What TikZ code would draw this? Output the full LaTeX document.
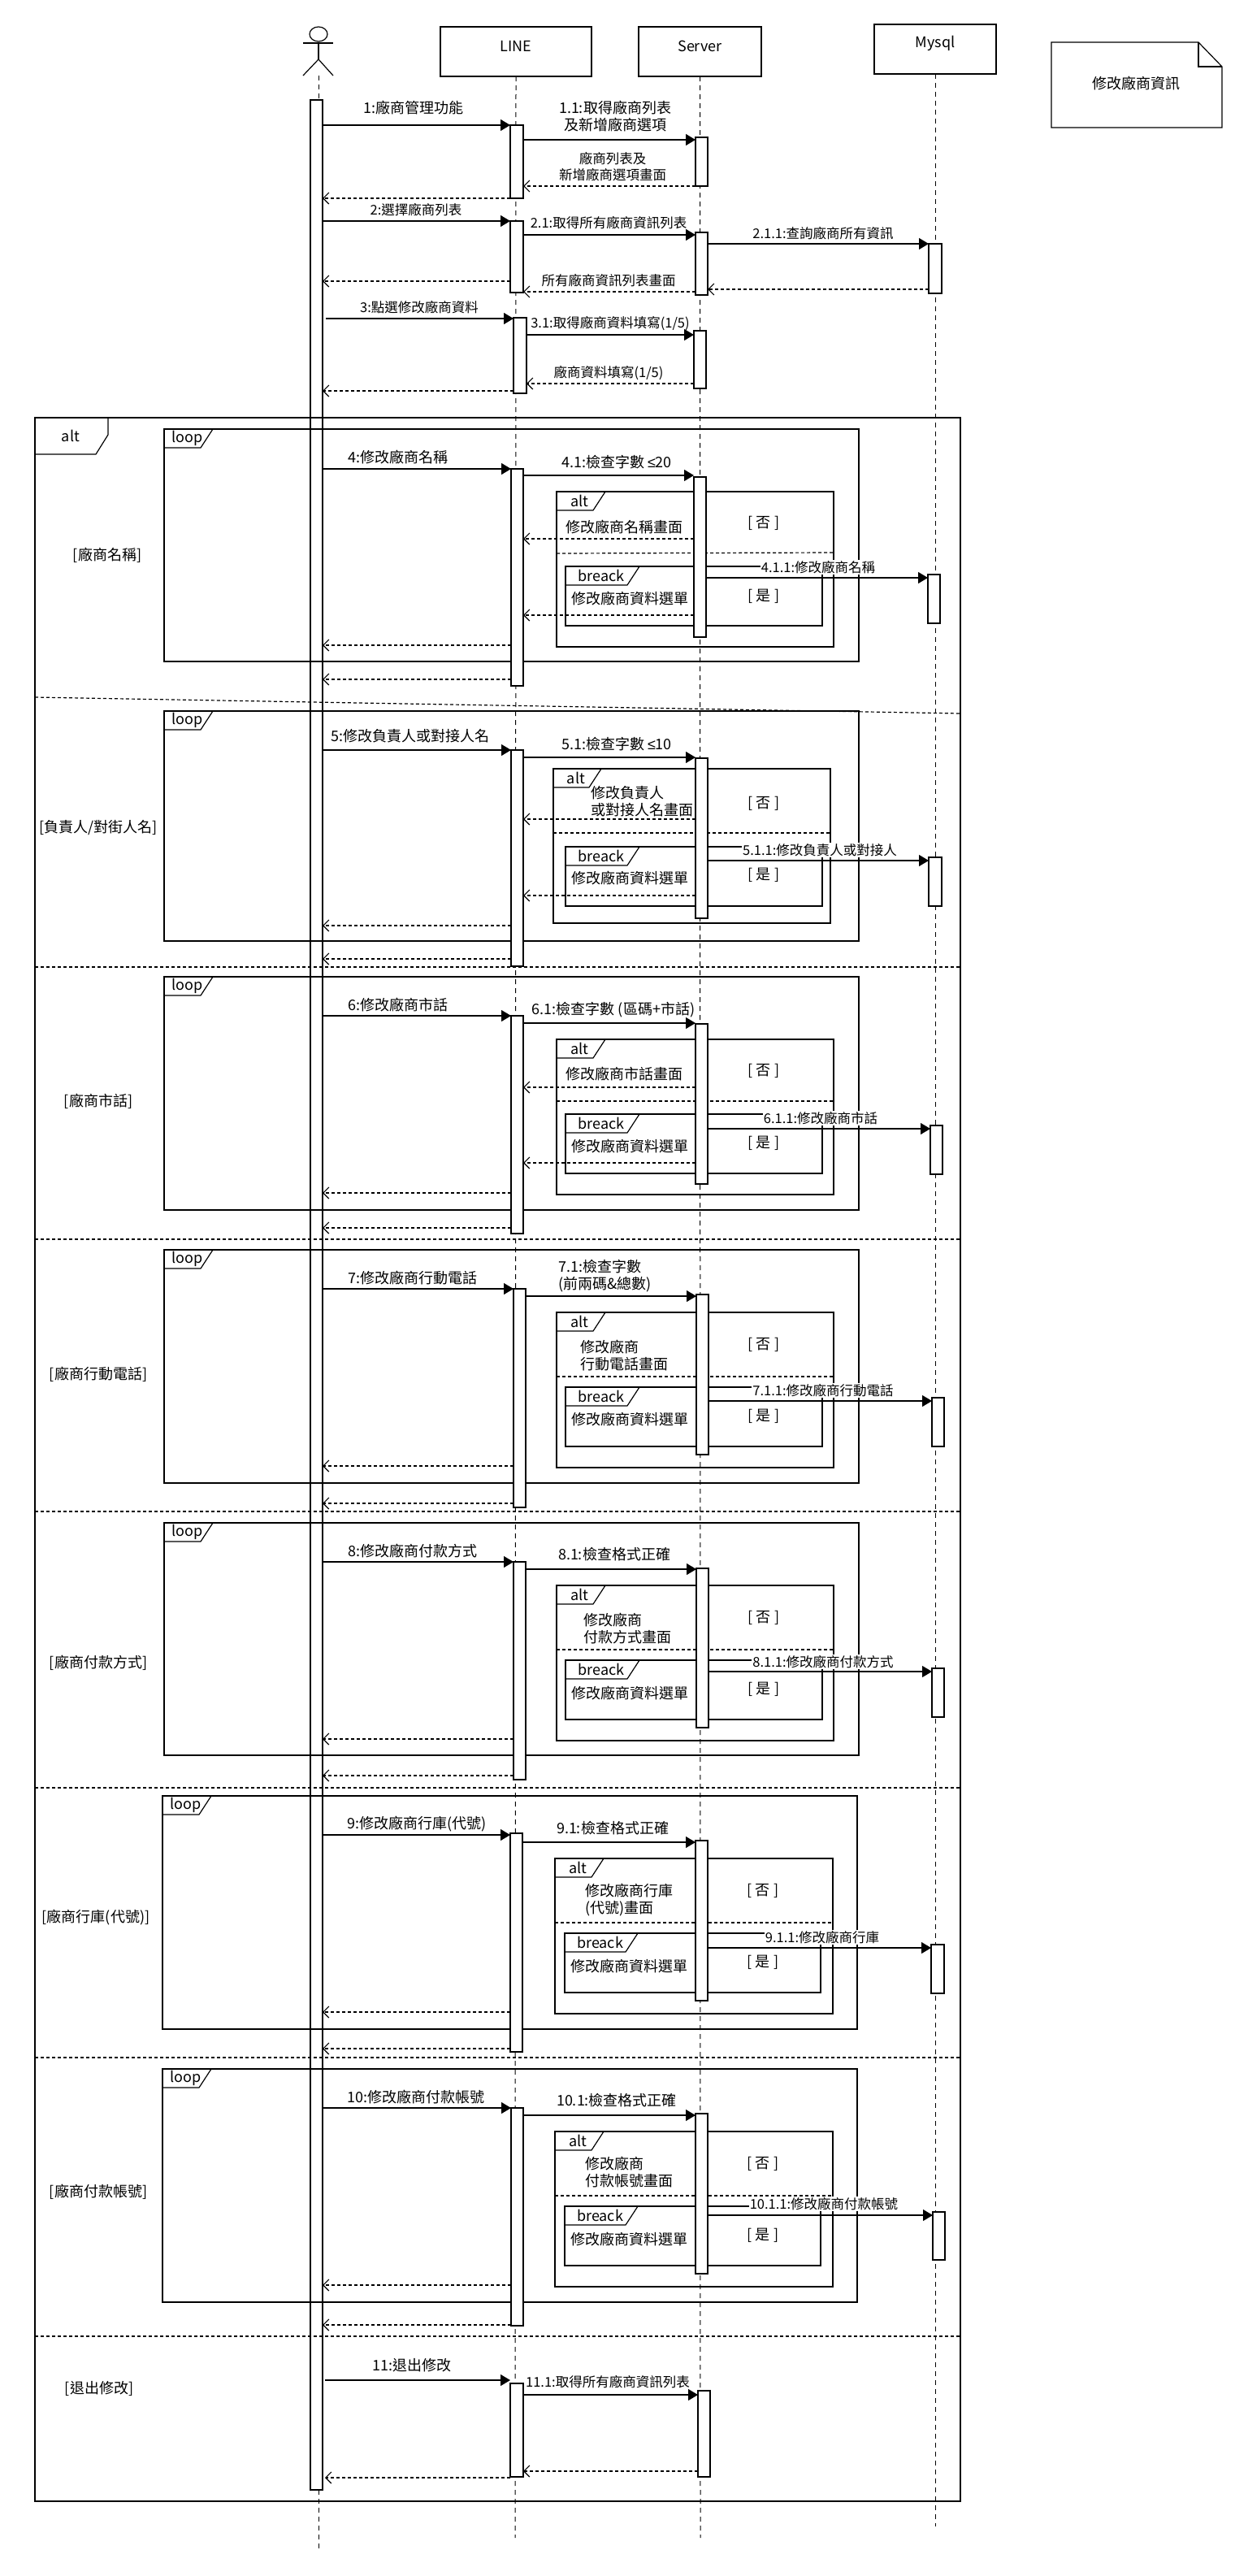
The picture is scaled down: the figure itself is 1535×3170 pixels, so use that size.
\documentclass[tikz,border=0pt]{standalone}
\usepackage{fontspec}
\setmainfont{Noto Sans CJK TC}
\newfontfamily\latinf{Liberation Sans}
\usetikzlibrary{arrows.meta,fit,shapes.geometric}
\newcommand{\actbar}[5]{\node (#1) [actv, fit={(#2,#3)(#4,#5)}] {};}
\newcommand{\frmtab}[7]{%
  \node (#1) [frm, fit={(#2,#3)(#4,#5)}] {};
  \draw ([xshift=#6pt]#1.north west) -- ++(-15,23) -- ++({15-#6},0);
  \node (#1t) [lbl] at ([xshift={(#6-3)/2*1pt},yshift=-11pt]#1.north west) {#7};}
\newcommand{\callto}[3]{\draw[callmsg] (#1.east |- 0,#3) -- (#2.west |- 0,#3);}
\newcommand{\backto}[3]{\draw[backmsg] (#1.west |- 0,#3) -- (#2.east |- 0,#3);}
\begin{document}
\begin{tikzpicture}[
x=1pt, y=-1pt, line width=1.2pt,
 lbl/.style = {font=\fontsize{18}{21}\selectfont, inner sep=0pt, align=center},
 lbls/.style = {lbl, font=\fontsize{16.5}{19.5}\selectfont},
 lblw/.style = {lbls, fill=white, inner sep=1pt},
 lbll/.style = {lbl, align=left, anchor=west},
 hdr/.style = {lbl, draw, rectangle, outer sep=0pt},
 frm/.style = {draw, rectangle, inner sep=0pt, outer sep=0pt},
 actv/.style = {draw, fill=white, rectangle, inner sep=0pt, outer sep=0pt},
 life/.style = {line width=1pt, dash pattern=on 6pt off 5pt},
 divln/.style = {dash pattern=on 4pt off 3pt},
 callmsg/.style = {-{Triangle[length=12pt,width=14pt]}},
 backmsg/.style = {dash pattern=on 4pt off 3pt, -{Straight Barb[length=7pt,width=14pt]}}
                    ]
\useasboundingbox (0,0) rectangle (1535,3170);
\actbar{bar0}{382}{123}{397}{3064}
\node(line) [hdr, fit={(542,33)(728,94)}] {LINE};
\node(server) [hdr, fit={(786,33)(937,94)}] {Server};
\node(mysql) [hdr, fit={(1076,30)(1226,91)}] {Mysql};
\coordinate (actorfoot) at (392,93);
\coordinate (actorend) at (392,3138);
\coordinate (lineend) at (634,3123);
\coordinate (serverend) at (862,3123);
\coordinate (mysqlend) at (1151,3109);
\draw[life] (actorfoot) -- (bar0.north -| actorfoot);
\draw[life] (bar0.south -| actorend) -- (actorend);
\draw[life] (line.south) -- (lineend);
\draw[life] (server.south) -- (serverend);
\draw[life] (mysql.south) -- (mysqlend);
% actor
\node(head) [draw, ellipse, inner sep=0pt, minimum width=22pt, minimum height=18pt] at (392,42) {};
\coordinate (neck) at (392,73);
\draw (head.south) -- (neck);
\draw (373,53) -- (410,53);
\draw (373,93) -- (neck) -- (410,93);
% note
\draw (1294,52) -- (1475,52) -- (1504,82) -- (1504,157) -- (1294,157) -- cycle;
\draw (1475,52) -- (1475,82) -- (1504,82);
\node(title) [lbl] at (1398,103) {修改廠商資訊};
%
\actbar{barL1}{628}{154}{644}{244}
\actbar{barS1}{856}{169}{871}{229}
\callto{bar0}{barL1}{154}
\callto{barL1}{barS1}{172}
\backto{barS1}{barL1}{229}
\backto{barL1}{bar0}{244}
\node(t1) [lbl] at (509,133) {1:廠商管理功能};
\node(t11) [lbl] at (757,143) {1.1:取得廠商列表\\及新增廠商選項};
\node(t12) [lbls] at (754,205) {廠商列表及\\新增廠商選項畫面};
%
\actbar{barL2}{628}{272}{644}{360}
\actbar{barS2}{856}{286}{871}{363}
\actbar{barM2}{1143}{300}{1159}{361}
\callto{bar0}{barL2}{272}
\callto{barL2}{barS2}{289}
\callto{barS2}{barM2}{300}
\backto{barM2}{barS2}{356}
\backto{barS2}{barL2}{359}
\backto{barL2}{bar0}{346}
\node(t2) [lbls] at (512,258) {2:選擇廠商列表};
\node(t21) [lbls] at (749,274) {2.1:取得所有廠商資訊列表};
\node(t211) [lbls] at (1013,287) {2.1.1:查詢廠商所有資訊};
\node(t22) [lbls] at (749,345) {所有廠商資訊列表畫面};
%
\actbar{barL3}{632}{391}{648}{484}
\actbar{barS3}{854}{407}{869}{478}
\draw[callmsg, shorten <=4pt] (bar0.east |- 0,392) -- (barL3.west |- 0,392);
\callto{barL3}{barS3}{412}
\backto{barS3}{barL3}{472}
\backto{barL3}{bar0}{481}
\node(t3) [lbls] at (516,378) {3:點選修改廠商資料};
\node(t31) [lbls] at (751,398) {3.1:取得廠商資料填寫(1/5)};
\node(t32) [lbls] at (749,459) {廠商資料填寫(1/5)};
% outer frame
\node(altall) [frm, fit={(43,514)(1182,3078)}] {};
\draw ([xshift=90pt]altall.north west) -- ++(0,21) -- ++(-15,24) -- ++(-75,0);
\node(altallt) [lbl] at (87,536) {alt};
\draw[divln] (altall.west |- 0,858) -- (altall.east |- 0,878);
\draw[divln] (altall.west |- 0,1190) -- (altall.east |- 0,1190);
\draw[divln] (altall.west |- 0,1525) -- (altall.east |- 0,1525);
\draw[divln] (altall.west |- 0,1860) -- (altall.east |- 0,1860);
\draw[divln] (altall.west |- 0,2200) -- (altall.east |- 0,2200);
\draw[divln] (altall.west |- 0,2532) -- (altall.east |- 0,2532);
\draw[divln] (altall.west |- 0,2875) -- (altall.east |- 0,2875);
\node(g4) [lbl] at (132,683) {[廠商名稱]};
\node(g5) [lbl] at (121,1019) {[負責人/對街人名]};
\node(g6) [lbl] at (121,1355) {[廠商市話]};
\node(g7) [lbl] at (121,1691) {[廠商行動電話]};
\node(g8) [lbl] at (121,2046) {[廠商付款方式]};
\node(g9) [lbl] at (118,2360) {[廠商行庫(代號)]};
\node(g10) [lbl] at (121,2697) {[廠商付款帳號]};
\node(g11) [lbl] at (122,2939) {[退出修改]};
% name
\frmtab{loop4}{202}{528}{1057}{814}{60}{loop}
\frmtab{alt4}{685}{605}{1026}{796}{60}{alt}
\frmtab{brk4}{696}{697}{1012}{770}{91}{breack}
\draw[divln] (alt4.west |- 0,681) -- (alt4.east |- 0,680);
\actbar{barL4}{629}{577}{644}{844}
\actbar{barS4}{854}{587}{869}{784}
\actbar{barM4}{1142}{707}{1157}{767}
\callto{bar0}{barL4}{577}
\callto{barL4}{barS4}{585}
\callto{barS4}{barM4}{711}
\backto{barS4}{barL4}{663}
\backto{barS4}{barL4}{757}
\backto{barL4}{bar0}{794}
\backto{barL4}{bar0}{836}
\node(t4) [lbl] at (490,563) {4:修改廠商名稱};
\node(t41) [lbl] at (759,569) {4.1:檢查字數 {\latinf ≤}20};
\node(n4) [lbl] at (768,649) {修改廠商名稱畫面};
\node(no4) [lbl] at (940,644) {[ 否 ]};
\node(t411) [lblw] at (1007,698) {4.1.1:修改廠商名稱};
\node(y4) [lbl] at (775,737) {修改廠商資料選單};
\node(ok4) [lbl] at (940,734) {[ 是 ]};
% contact
\frmtab{loop5}{202}{875}{1057}{1158}{60}{loop}
\frmtab{alt5}{681}{946}{1022}{1136}{59}{alt}
\frmtab{brk5}{696}{1042}{1012}{1115}{91}{breack}
\draw[divln] (alt5.west |- 0,1025) -- (alt5.east |- 0,1025);
\actbar{barL5}{629}{923}{644}{1189}
\actbar{barS5}{856}{933}{871}{1130}
\actbar{barM5}{1143}{1055}{1159}{1115}
\callto{bar0}{barL5}{923}
\callto{barL5}{barS5}{932}
\callto{barS5}{barM5}{1059}
\backto{barS5}{barL5}{1008}
\backto{barS5}{barL5}{1102}
\backto{barL5}{bar0}{1139}
\backto{barL5}{bar0}{1180}
\node(t5) [lbl] at (505,906) {5:修改負責人或對接人名};
\node(t51) [lbl] at (759,916) {5.1:檢查字數 {\latinf ≤}10};
\node(n5) [lbll] at (727,986) {修改負責人\\或對接人名畫面};
\node(no5) [lbl] at (940,989) {[ 否 ]};
\node(t511) [lblw] at (1009,1046) {5.1.1:修改負責人或對接人};
\node(y5) [lbl] at (775,1081) {修改廠商資料選單};
\node(ok5) [lbl] at (940,1077) {[ 是 ]};
% phone
\frmtab{loop6}{202}{1202}{1057}{1489}{60}{loop}
\frmtab{alt6}{685}{1279}{1026}{1470}{60}{alt}
\frmtab{brk6}{696}{1371}{1012}{1444}{91}{breack}
\draw[divln] (alt6.west |- 0,1355) -- (alt6.east |- 0,1355);
\actbar{barL6}{629}{1250}{644}{1518}
\actbar{barS6}{856}{1260}{871}{1457}
\actbar{barM6}{1145}{1385}{1160}{1445}
\callto{bar0}{barL6}{1250}
\callto{barL6}{barS6}{1259}
\callto{barS6}{barM6}{1389}
\backto{barS6}{barL6}{1338}
\backto{barS6}{barL6}{1431}
\backto{barL6}{bar0}{1468}
\backto{barL6}{bar0}{1511}
\node(t6) [lbl] at (490,1237) {6:修改廠商市話};
\node(t61) [lbl] at (755,1243) {6.1:檢查字數 (區碼+市話)};
\node(n6) [lbl] at (768,1322) {修改廠商市話畫面};
\node(no6) [lbl] at (940,1318) {[ 否 ]};
\node(t611) [lblw] at (1010,1376) {6.1.1:修改廠商市話};
\node(y6) [lbl] at (775,1411) {修改廠商資料選單};
\node(ok6) [lbl] at (940,1407) {[ 是 ]};
% mobile
\frmtab{loop7}{202}{1538}{1057}{1825}{60}{loop}
\frmtab{alt7}{685}{1615}{1026}{1806}{60}{alt}
\frmtab{brk7}{696}{1707}{1012}{1780}{91}{breack}
\draw[divln] (alt7.west |- 0,1694) -- (alt7.east |- 0,1694);
\actbar{barL7}{632}{1586}{647}{1855}
\actbar{barS7}{857}{1593}{872}{1790}
\actbar{barM7}{1147}{1720}{1162}{1780}
\callto{bar0}{barL7}{1586}
\callto{barL7}{barS7}{1595}
\callto{barS7}{barM7}{1724}
\backto{barL7}{bar0}{1804}
\backto{barL7}{bar0}{1850}
\node(t7) [lbl] at (508,1573) {7:修改廠商行動電話};
\node(t71) [lbll] at (687,1570) {7.1:檢查字數\\(前兩碼\&總數)};
\node(n7) [lbll] at (714,1668) {修改廠商\\行動電話畫面};
\node(no7) [lbl] at (940,1655) {[ 否 ]};
\node(t711) [lblw] at (1013,1711) {7.1.1:修改廠商行動電話};
\node(y7) [lbl] at (775,1747) {修改廠商資料選單};
\node(ok7) [lbl] at (940,1743) {[ 是 ]};
% payment
\frmtab{loop8}{202}{1874}{1057}{2160}{60}{loop}
\frmtab{alt8}{685}{1951}{1026}{2142}{60}{alt}
\frmtab{brk8}{696}{2043}{1012}{2116}{91}{breack}
\draw[divln] (alt8.west |- 0,2030) -- (alt8.east |- 0,2030);
\actbar{barL8}{632}{1922}{647}{2190}
\actbar{barS8}{857}{1930}{872}{2126}
\actbar{barM8}{1147}{2053}{1162}{2113}
\callto{bar0}{barL8}{1922}
\callto{barL8}{barS8}{1931}
\callto{barS8}{barM8}{2057}
\backto{barL8}{bar0}{2140}
\backto{barL8}{bar0}{2185}
\node(t8) [lbl] at (508,1909) {8:修改廠商付款方式};
\node(t81) [lbl] at (756,1913) {8.1:檢查格式正確};
\node(n8) [lbll] at (718,2004) {修改廠商\\付款方式畫面};
\node(no8) [lbl] at (940,1991) {[ 否 ]};
\node(t811) [lblw] at (1013,2045) {8.1.1:修改廠商付款方式};
\node(y8) [lbl] at (775,2084) {修改廠商資料選單};
\node(ok8) [lbl] at (940,2079) {[ 是 ]};
% bank
\frmtab{loop9}{200}{2210}{1055}{2497}{60}{loop}
\frmtab{alt9}{683}{2287}{1025}{2478}{60}{alt}
\frmtab{brk9}{695}{2379}{1010}{2452}{90}{breack}
\draw[divln] (alt9.west |- 0,2366) -- (alt9.east |- 0,2366);
\actbar{barL9}{628}{2256}{643}{2525}
\actbar{barS9}{856}{2265}{871}{2462}
\actbar{barM9}{1146}{2393}{1162}{2453}
\callto{bar0}{barL9}{2258}
\callto{barL9}{barS9}{2267}
\callto{barS9}{barM9}{2397}
\backto{barL9}{bar0}{2476}
\backto{barL9}{bar0}{2521}
\node(t9) [lbl] at (513,2245) {9:修改廠商行庫(代號)};
\node(t91) [lbl] at (754,2250) {9.1:檢查格式正確};
\node(n9) [lbll] at (720,2338) {修改廠商行庫\\(代號)畫面};
\node(no9) [lbl] at (939,2327) {[ 否 ]};
\node(t911) [lblw] at (1012,2384) {9.1.1:修改廠商行庫};
\node(y9) [lbl] at (774,2420) {修改廠商資料選單};
\node(ok9) [lbl] at (939,2415) {[ 是 ]};
% account
\frmtab{loop10}{200}{2546}{1055}{2833}{60}{loop}
\frmtab{alt10}{683}{2623}{1025}{2814}{60}{alt}
\frmtab{brk10}{695}{2715}{1010}{2788}{90}{breack}
\draw[divln] (alt10.west |- 0,2702) -- (alt10.east |- 0,2702);
\actbar{barL10}{629}{2594}{644}{2862}
\actbar{barS10}{856}{2601}{871}{2798}
\actbar{barM10}{1148}{2722}{1163}{2781}
\callto{bar0}{barL10}{2594}
\callto{barL10}{barS10}{2603}
\callto{barS10}{barM10}{2726}
\backto{barL10}{bar0}{2812}
\backto{barL10}{bar0}{2861}
\node(t10) [lbl] at (512,2581) {10:修改廠商付款帳號};
\node(t101) [lbl] at (759,2585) {10.1:檢查格式正確};
\node(n10) [lbll] at (720,2673) {修改廠商\\付款帳號畫面};
\node(no10) [lbl] at (939,2663) {[ 否 ]};
\node(t1011) [lblw] at (1014,2712) {10.1.1:修改廠商付款帳號};
\node(y10) [lbl] at (774,2755) {修改廠商資料選單};
\node(ok10) [lbl] at (939,2751) {[ 是 ]};
% leave
\actbar{barL11}{628}{2933}{644}{3048}
\actbar{barS11}{859}{2942}{874}{3048}
\draw[callmsg, shorten <=3pt] (bar0.east |- 0,2929) -- (barL11.west |- 0,2929);
\callto{barL11}{barS11}{2947}
\backto{barS11}{barL11}{3041}
\draw[backmsg, shorten >=3pt] (barL11.west |- 0,3049) -- (bar0.east |- 0,3049);
\node(t11a) [lbl] at (507,2911) {11:退出修改};
\node(t111) [lbls] at (748,2931) {11.1:取得所有廠商資訊列表};
\end{tikzpicture}
\end{document}
